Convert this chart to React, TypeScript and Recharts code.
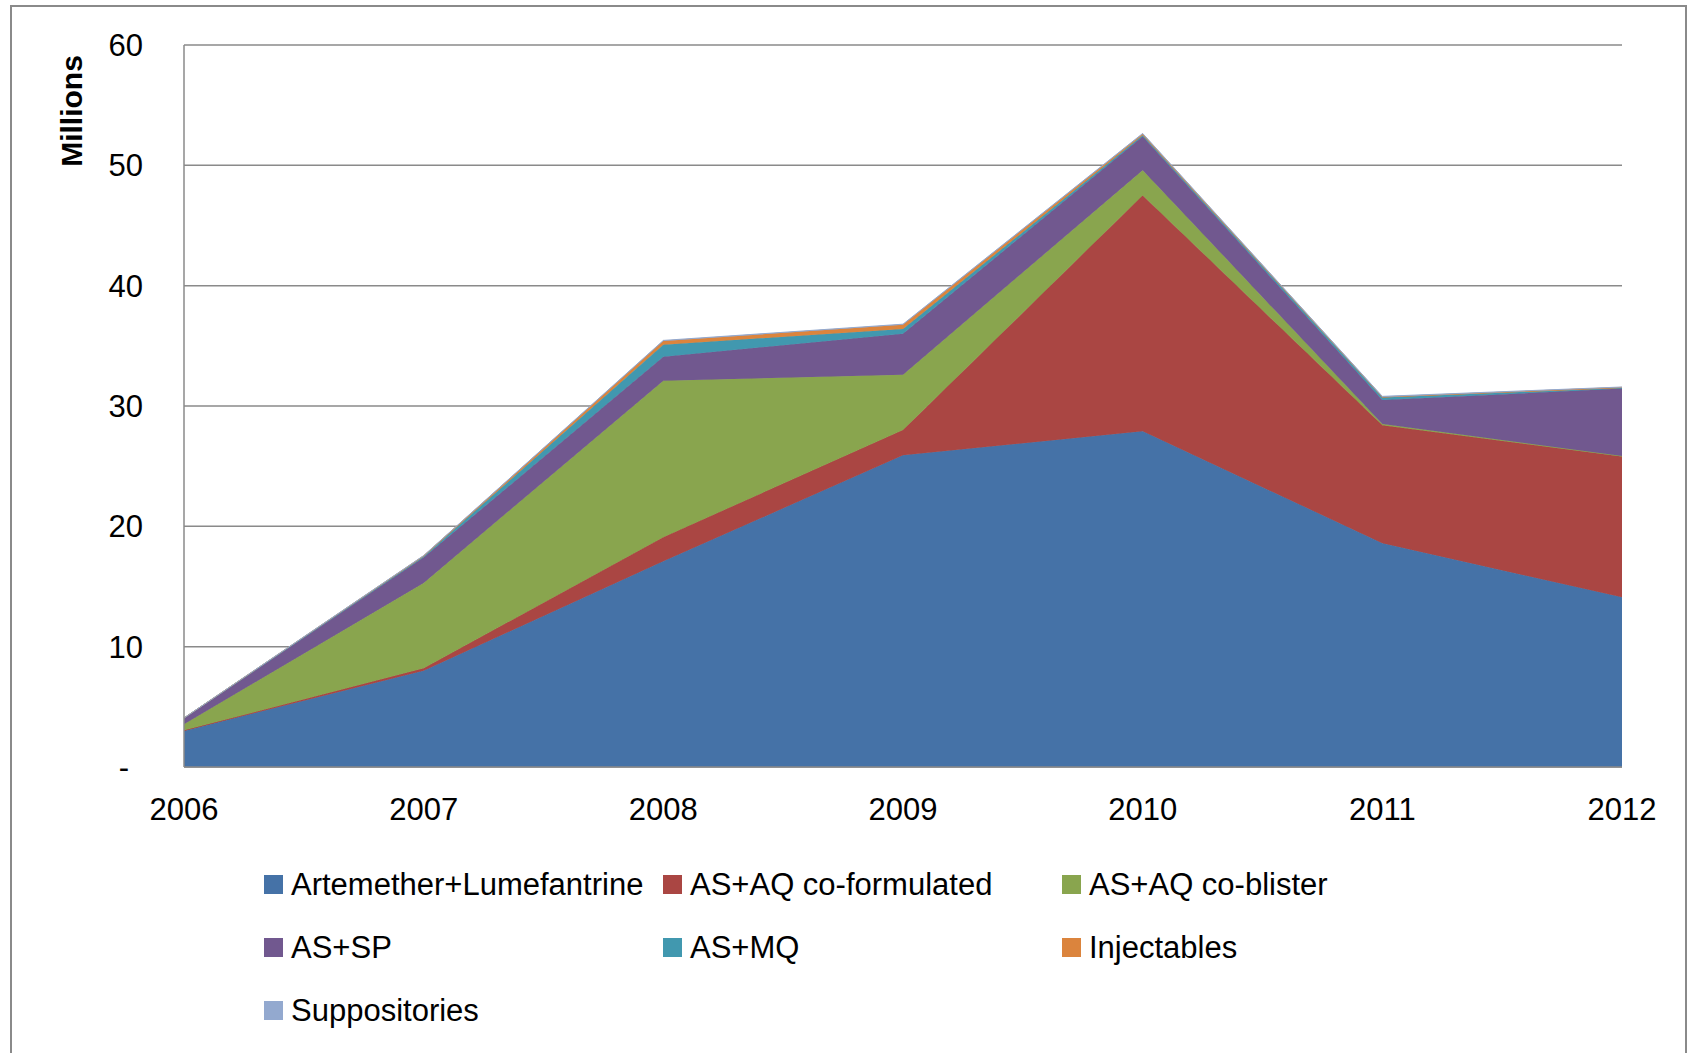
import React from 'react';
import { AreaChart, Area, XAxis, YAxis, CartesianGrid, Legend } from 'recharts';

const YEARS = ['2006', '2007', '2008', '2009', '2010', '2011', '2012'];

// millions of treatment courses, stacked bottom to top
const ARTEMETHER_LUMEFANTRINE = [3.0, 8.0, 17.1, 25.9, 27.9, 18.6, 14.1];
const ASAQ_COFORMULATED = [0.05, 0.2, 2.0, 2.1, 19.6, 9.8, 11.7];
const ASAQ_COBLISTER = [0.5, 7.1, 13.0, 4.6, 2.1, 0.1, 0.05];
const AS_SP = [0.5, 2.1, 2.0, 3.4, 2.8, 2.0, 5.6];
const AS_MQ = [0.02, 0.1, 1.0, 0.4, 0.1, 0.2, 0.05];
const INJECTABLES = [0.0, 0.05, 0.3, 0.35, 0.1, 0.05, 0.05];
const SUPPOSITORIES = [0.0, 0.02, 0.05, 0.05, 0.05, 0.05, 0.03];

const Y_TICKS = [0, 10, 20, 30, 40, 50, 60];

const SERIES = [
  { key: 'al', name: 'Artemether+Lumefantrine', color: '#4572A7', values: ARTEMETHER_LUMEFANTRINE },
  { key: 'cf', name: 'AS+AQ co-formulated', color: '#AA4643', values: ASAQ_COFORMULATED },
  { key: 'cb', name: 'AS+AQ co-blister', color: '#89A54E', values: ASAQ_COBLISTER },
  { key: 'sp', name: 'AS+SP', color: '#71588F', values: AS_SP },
  { key: 'mq', name: 'AS+MQ', color: '#4198AF', values: AS_MQ },
  { key: 'inj', name: 'Injectables', color: '#DB843D', values: INJECTABLES },
  { key: 'sup', name: 'Suppositories', color: '#93A9CF', values: SUPPOSITORIES },
];

const data = YEARS.map((year, i) => {
  const row: Record<string, number | string> = { year };
  SERIES.forEach(s => {
    row[s.key] = s.values[i];
  });
  return row;
});

const FONT = '"Liberation Sans", Arial, sans-serif';

const YTick = (props: any) => {
  const { x, y, payload } = props;
  const zero = payload.value === 0;
  return (
    <text
      x={x - (zero ? 55 : 41)}
      y={y}
      dy="0.36em"
      textAnchor="end"
      fontFamily={FONT}
      fontSize={31}
      fill="#000"
    >
      {zero ? '-' : payload.value}
    </text>
  );
};

// legend keeps the series order (Recharts would sort the payload by name)
const renderLegend = () => (
  <div
    style={{
      display: 'grid',
      gridTemplateColumns: '399px 399px 399px',
      fontFamily: FONT,
      fontSize: 31,
      color: '#000',
    }}
  >
    {SERIES.map(s => (
      <div key={s.key} style={{ display: 'flex', alignItems: 'center', height: 63, whiteSpace: 'nowrap' }}>
        <span style={{ display: 'inline-block', width: 19, height: 19, background: s.color, marginRight: 8 }} />
        <span>{s.name}</span>
      </div>
    ))}
  </div>
);

const App: React.FC = () => {
  return (
    <div style={{ position: 'absolute', left: 0, top: 0, width: 1692, height: 1053, background: '#fff', overflow: 'hidden' }}>
      <div
        style={{
          position: 'absolute',
          left: 10,
          top: 5,
          width: 1677,
          height: 1100,
          border: '2px solid #8a8a8a',
          boxSizing: 'border-box',
        }}
      />
      <AreaChart
        width={1692}
        height={1053}
        data={data}
        margin={{ top: 45, right: 70, bottom: 226, left: 0 }}
      >
        <CartesianGrid vertical={false} stroke="#8a8a8a" strokeWidth={1.5} />
        <XAxis
          dataKey="year"
          axisLine={{ stroke: '#8a8a8a', strokeWidth: 1.5 }}
          tickLine={false}
          tickSize={0}
          tickMargin={31}
          height={60}
          tick={{ fontFamily: FONT, fontSize: 31, fill: '#000' }}
        />
        <YAxis
          width={184}
          domain={[0, 60]}
          ticks={Y_TICKS}
          interval={0}
          axisLine={{ stroke: '#8a8a8a', strokeWidth: 1.5 }}
          tickLine={false}
          tickSize={0}
          tickMargin={0}
          tick={<YTick />}
          label={() => (
            <text
              x={82}
              y={111}
              transform="rotate(-90 82 111)"
              textAnchor="middle"
              fontFamily={FONT}
              fontSize={30}
              fontWeight="bold"
              fill="#000"
            >
              Millions
            </text>
          )}
        />
        {SERIES.map(s => (
          <Area
            key={s.key}
            type="linear"
            dataKey={s.key}
            name={s.name}
            stackId="1"
            stroke={s.color}
            strokeWidth={1}
            fill={s.color}
            fillOpacity={1}
            isAnimationActive={false}
          />
        ))}
        <Legend
          layout="vertical"
          align="center"
          verticalAlign="middle"
          content={renderLegend}
          wrapperStyle={{ top: 853, left: 264, width: 1300, bottom: 'auto' }}
        />
      </AreaChart>
    </div>
  );
};

export default App;
